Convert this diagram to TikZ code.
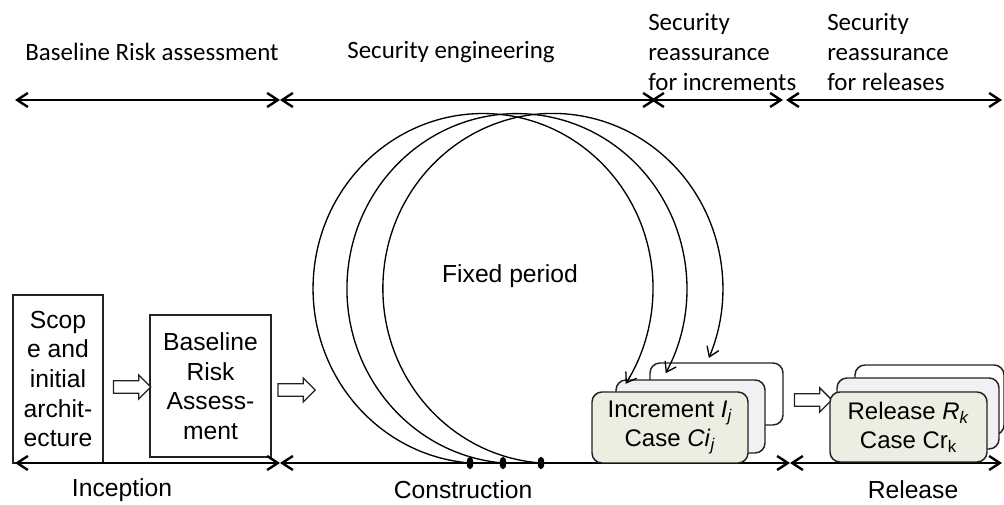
\documentclass[tikz,border=0pt]{standalone}
\usepackage{fontspec}
\setmainfont{Liberation Sans}
\newfontfamily\calfont{Carlito}
\usetikzlibrary{arrows.meta,shapes.arrows,shapes.geometric}
\definecolor{frontfill}{RGB}{238,237,226}
\definecolor{midfill}{RGB}{241,241,244}
\definecolor{edgegray}{RGB}{34,34,34}
\tikzset{
  tl/.style={line width=1.8pt, {Straight Barb[length=8pt,width=10.5pt]}-{Straight Barb[length=8pt,width=10.5pt]}},
  toplabel/.style={font=\calfont\fontsize{18.7}{22.5}\selectfont, inner sep=0pt, align=left},
  botlabel/.style={font=\fontsize{18.5}{22}\selectfont, inner sep=0pt},
  plainbox/.style={draw=edgegray, line width=1.1pt, fill=white, align=center, inner sep=0pt,
     font=\fontsize{18.5}{22.2}\selectfont},
  card/.style={draw=edgegray, line width=1.1pt, rounded corners=7.5pt},
  blockarrow/.style={single arrow, draw=edgegray, line width=1pt, fill=white, inner sep=4.2pt,
     single arrow head extend=4.3pt, minimum height=28pt},
  loopline/.style={line width=1pt, -{Straight Barb[length=7pt,width=9.5pt]}},
  dotmark/.style={ellipse, fill=black, inner sep=0pt, minimum width=5pt, minimum height=9.5pt},
  cardtext/.style={align=center, inner sep=0pt, font=\fontsize{18}{21.8}\selectfont}
}
\begin{document}
\begin{tikzpicture}[x=0.75pt,y=-0.75pt]
\useasboundingbox (0,0) rectangle (1004,505);
\clip (0,0) rectangle (1004,505);

% top timeline
\coordinate (ta) at (15,100);
\coordinate (tb) at (280,100);
\coordinate (tc1) at (656,100);
\coordinate (tc2) at (651,100);
\coordinate (td1) at (783,100);
\coordinate (td2) at (786,100);
\coordinate (te) at (1002,100);
\draw[tl] (ta) -- (tb);
\draw[tl] (tb) -- (tc1);
\draw[tl] (tc2) -- (td1);
\draw[tl] (td2) -- (te);

% top labels
\node[toplabel] (lbra) at (152,52) {Baseline Risk assessment};
\node[toplabel] (lse) at (451,52) {Security engineering};
\node[toplabel, anchor=west] (lsri) at (648,52) {Security\\reassurance\\for increments};
\node[toplabel, anchor=west] (lsrr) at (827,52) {Security\\reassurance\\for releases};

% bottom timeline
\coordinate (ba) at (15,463);
\coordinate (bb) at (280,463);
\coordinate (bc) at (790,463);
\coordinate (bd) at (1002,463);

% boxes
\node[plainbox, minimum width=67.5pt, minimum height=126pt] (scope) at (58,379)
  {Scop\\e and\\initial\\archit-\\ecture};
\node[plainbox, minimum width=90.75pt, minimum height=106.5pt] (bra) at (210.5,386)
  {Baseline\\Risk\\Assess-\\ment};

\draw[tl] (ba) -- (bb);
\draw[tl] (bb) -- (bc);
\draw[tl] (bc) -- (bd);

% block arrows
\node[blockarrow] (ar1) at (129,387) {};
\node[blockarrow] (ar2) at (293.5,390) {};
\node[blockarrow] (ar3) at (810,400) {};

% increment stack
\draw[card, fill=white] (650,363) rectangle (783,425);
\draw[card, fill=midfill] (616,380) rectangle (765,453);
\draw[card, fill=frontfill] (592,392) rectangle (748,463);
\node[cardtext] (inc) at (670,427.5) {Increment \textit{I}\textsubscript{\textit{j}}\\Case \textit{Ci}\textsubscript{\textit{j}}};

% release stack
\draw[card, fill=white] (855,365) rectangle (1004,435);
\draw[card, fill=midfill] (837,378) rectangle (999,449);
\draw[card, fill=frontfill] (830,392) rectangle (987,462);
\node[cardtext] (rel) at (908.5,427) {Release \textit{R}\textsubscript{\textit{k}}\\Case Cr\textsubscript{k}};

% loops
\node[dotmark] (d1) at (470,463) {};
\node[dotmark] (d2) at (503,463) {};
\node[dotmark] (d3) at (541,463) {};
\draw[loopline] (d1.center) arc[start angle=94.4, end angle=393, x radius=170, y radius=175];
\draw[loopline] (d2.center) arc[start angle=94.7, end angle=388.9, x radius=170, y radius=175];
\draw[loopline] (d3.center) arc[start angle=94, end angle=383.4, x radius=170, y radius=175];

\node[botlabel] (fixed) at (510,276) {Fixed period};

% bottom labels
\node[botlabel] (linc) at (122,490) {Inception};
\node[botlabel] (lcon) at (463,490) {Construction};
\node[botlabel] (lrel) at (913,490) {Release};
\end{tikzpicture}
\end{document}
